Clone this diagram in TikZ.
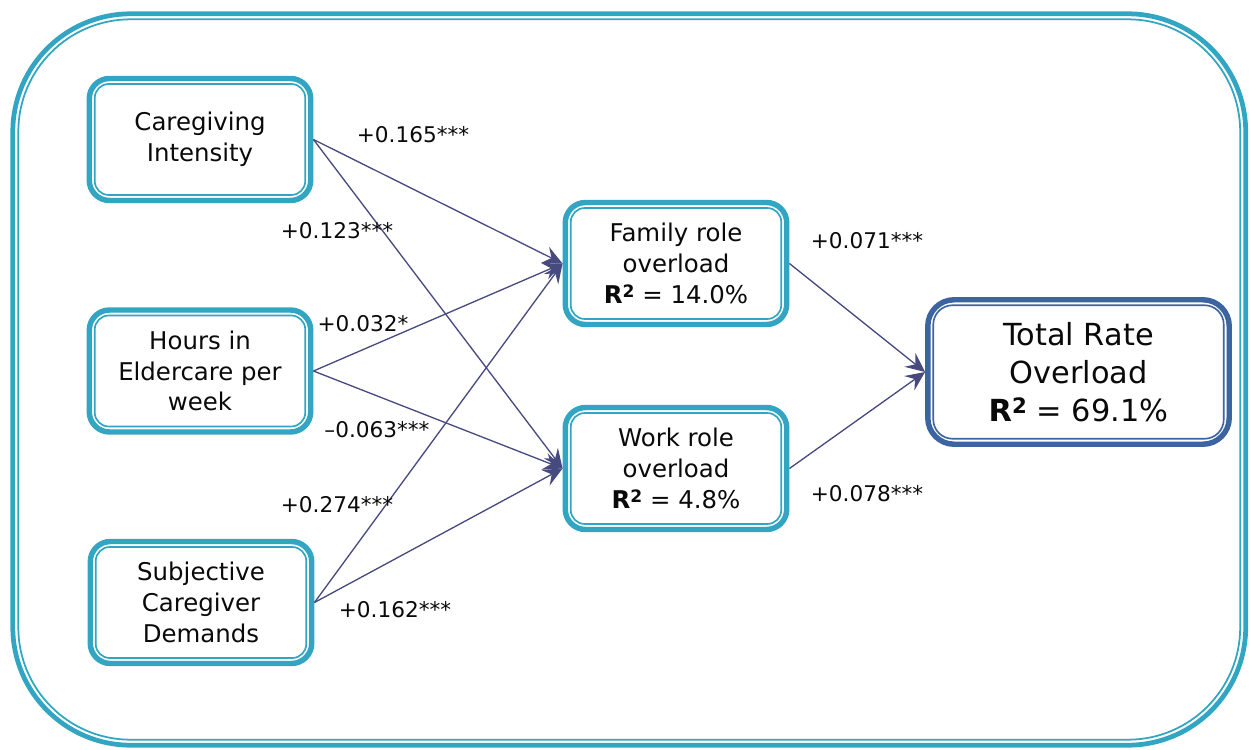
\documentclass[tikz,border=0pt]{standalone}
\usepackage{fontspec}
\setmainfont{DejaVu Sans}
\usetikzlibrary{arrows.meta}
\definecolor{teal1}{HTML}{31A5C1}
\definecolor{navy1}{HTML}{464A7F}
\definecolor{blue1}{HTML}{3C64A0}
\definecolor{ink}{HTML}{0A0A0A}
\newcommand\Rsqr{\textbf{R}\raisebox{0.24em}{\scalebox{0.7}{\textbf{2}}}}
\begin{document}
\begin{tikzpicture}[x=0.02cm,y=-0.02cm,
  box/.style={draw=teal1, fill=white, line width=3.1pt, rounded corners=11.5pt,
    minimum width=4.43cm, minimum height=2.44cm, align=center, inner sep=0pt,
    text=ink, font=\fontsize{13.9}{17.5}\selectfont},
  totbox/.style={draw=blue1, fill=white, line width=3.1pt, rounded corners=15pt,
    minimum width=6.03cm, minimum height=2.89cm, align=center, inner sep=0pt,
    text=ink, font=\fontsize{17.3}{21.6}\selectfont},
  innerline/.style={draw=#1, line width=0.95pt, rounded corners=8pt},
  lab/.style={text=ink, font=\fontsize{12.3}{14}\selectfont, inner sep=0pt},
  path/.style={draw=navy1, line width=0.75pt, -{Stealth[length=11pt,width=10pt,inset=4pt]}}
]
\useasboundingbox (0,0) rectangle (1250,750);
% outer frame
\draw[teal1, line width=2.7pt, rounded corners=2.36cm] (12.8,13.8) rectangle (1245.7,745.2);
\draw[teal1, line width=1pt, rounded corners=2.25cm] (18.3,19.3) rectangle (1240.2,739.7);

% nodes
\node[box] (ci) at (200,139.5) {Caregiving\\Intensity};
\node[box] (hw) at (200,371) {Hours in\\Eldercare per\\week};
\node[box] (sd) at (201,602.5) {Subjective\\Caregiver\\Demands};
\node[box] (fr) at (676,263.5) {Family role\\overload\\\Rsqr{} = 14.0\%};
\node[box] (wr) at (676,468.5) {Work role\\overload\\\Rsqr{} = 4.8\%};
\node[totbox] (tot) at (1078.5,372) {Total Rate\\Overload\\\Rsqr{} = 69.1\%};

\foreach \n in {ci,hw,sd,fr,wr}
  \draw[innerline=teal1] ([shift={(8.2,8.2)}]\n.north west) rectangle ([shift={(-8.2,-8.2)}]\n.south east);
\draw[innerline=blue1, rounded corners=11pt] ([shift={(8.2,8.2)}]tot.north west) rectangle ([shift={(-8.2,-8.2)}]tot.south east);

% connectors
\draw[path] (ci.east) -- (fr.west);
\draw[path] (ci.east) -- (wr.west);
\draw[path] (hw.east) -- (fr.west);
\draw[path] (hw.east) -- (wr.west);
\draw[path] (sd.east) -- (fr.west);
\draw[path] (sd.east) -- (wr.west);
\draw[path] (fr.east) -- (tot.west);
\draw[path] (wr.east) -- (tot.west);

% labels
\node[lab] (l1) at (413,135) {+0.165***};
\node[lab] (l2) at (337,231) {+0.123***};
\node[lab] (l3) at (363,324) {+0.032*};
\node[lab] (l4) at (377,430) {–0.063***};
\node[lab] (l5) at (337,505) {+0.274***};
\node[lab] (l6) at (395,610) {+0.162***};
\node[lab] (l7) at (867,241) {+0.071***};
\node[lab] (l8) at (867,494) {+0.078***};
\end{tikzpicture}
\end{document}
